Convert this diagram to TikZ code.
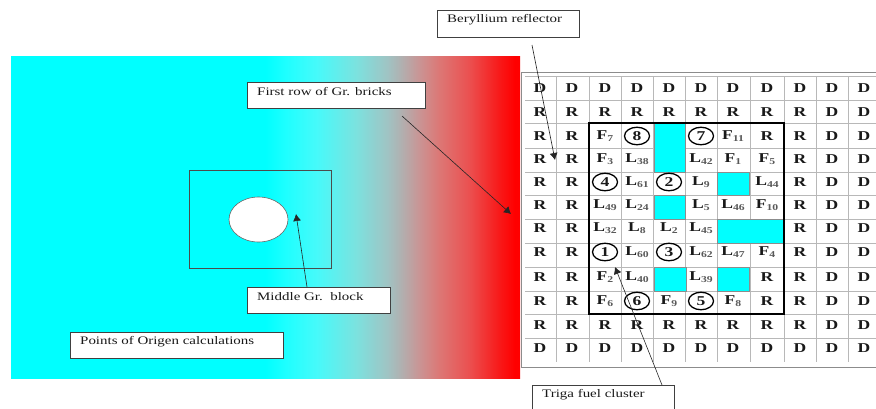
\documentclass[tikz,border=0pt]{standalone}
\usepackage{fontspec}
\setmainfont{Liberation Serif}
\newfontfamily\widefont[FakeStretch=1.3]{Liberation Serif}
\usetikzlibrary{arrows.meta,shapes.geometric}
\definecolor{aqua}{RGB}{0,255,255}
\definecolor{gA}{RGB}{30,255,255}
\definecolor{gB}{RGB}{70,250,250}
\definecolor{gC}{RGB}{125,225,222}
\definecolor{gD}{RGB}{160,195,195}
\definecolor{gE}{RGB}{175,178,178}
\definecolor{gF}{RGB}{200,150,150}
\definecolor{gG}{RGB}{220,120,118}
\definecolor{gH}{RGB}{235,80,80}
\definecolor{gI}{RGB}{248,24,24}
\definecolor{gJ}{RGB}{255,0,0}
\pgfdeclarehorizontalshading{coolhot}{100bp}{
  color(0bp)=(aqua); color(25bp)=(aqua); color(50bp)=(aqua);
  color(52bp)=(gA); color(55bp)=(gB); color(59bp)=(gC);
  color(62bp)=(gD); color(63.2bp)=(gE); color(65bp)=(gF);
  color(67bp)=(gG); color(70bp)=(gH); color(73bp)=(gI);
  color(74.5bp)=(gJ); color(100bp)=(gJ)}
\newcommand{\Sb}[1]{\raisebox{-2.5pt}{\fontsize{9}{9}\selectfont\color{black!65}#1}}
\newcommand{\Ci}[1]{\tikz[baseline=(n.base)]\node[circ](n){#1};}
\tikzset{
  x=1pt,y=-1pt,
  box/.style={draw=black!75,fill=white,line width=.7pt,inner sep=0pt},
  lbl/.style={inner sep=0pt,anchor=west,text=black!90,font=\widefont\fontsize{11.5}{13}\selectfont},
  cell/.style={inner sep=0pt,font=\widefont\bfseries\fontsize{13.5}{15}\selectfont,text=black!90},
  circ/.style={draw=black,ellipse,line width=1.3pt,minimum width=25pt,minimum height=17.5pt,inner sep=0pt},
  gridline/.style={draw=black!28,line width=.8pt},
  frameline/.style={draw=black!45,line width=1pt},
  arrowline/.style={draw=black!85,line width=.6pt,-{Latex[length=7pt,width=8pt]}},
  aquacell/.style={fill=aqua,draw=black!45,line width=.6pt},
  cluster/.style={draw=black,line width=1.2pt}
}
\begin{document}
\begin{tikzpicture}
\useasboundingbox (0,0) rectangle (876,408);
% gradient slab
\path[shading=coolhot] (11,56) rectangle (520,378);
% table
\foreach \gx in {556,589,621,653,685,717,750,784,816,848}
  \draw[gridline] (\gx,77) -- (\gx,362);
\foreach \gy in {76,100,123,148,172,195,219,243,267,291,314,338}
  \draw[gridline] (525,\gy) -- (876,\gy);
\draw[frameline] (876,72) -- (521,72) -- (521,367) -- (876,367);
% cyan cells
\path[aquacell] (654,123) rectangle (685,172);
\path[aquacell] (717,172) rectangle (749,195);
\path[aquacell] (654,195) rectangle (685,219);
\path[aquacell] (717,219) rectangle (783,243);
\path[aquacell] (654,267) rectangle (686,291);
\path[aquacell] (717,267) rectangle (749,291);
% cluster frame
\draw[cluster] (589,123) rectangle (784,314);
% cells
\foreach \rowtxt [count=\r] in {
 {D,D,D,D,D,D,D,D,D,D,D},
 {R,R,R,R,R,R,R,R,R,D,D},
 {R,R,F\Sb{7},\Ci{8},,\Ci{7},F\Sb{11},R,R,D,D},
 {R,R,F\Sb{3},L\Sb{38},,L\Sb{42},F\Sb{1},F\Sb{5},R,D,D},
 {R,R,\Ci{4},L\Sb{61},\Ci{2},L\Sb{9},,L\Sb{44},R,D,D},
 {R,R,L\Sb{49},L\Sb{24},,L\Sb{5},L\Sb{46},F\Sb{10},R,D,D},
 {R,R,L\Sb{32},L\Sb{8},L\Sb{2},L\Sb{45},,,R,D,D},
 {R,R,\Ci{1},L\Sb{60},\Ci{3},L\Sb{62},L\Sb{47},F\Sb{4},R,D,D},
 {R,R,F\Sb{2},L\Sb{40},,L\Sb{39},,R,R,D,D},
 {R,R,F\Sb{6},\Ci{6},F\Sb{9},\Ci{5},F\Sb{8},R,R,D,D},
 {R,R,R,R,R,R,R,R,R,D,D},
 {D,D,D,D,D,D,D,D,D,D,D}}
{
  \foreach \celltxt [count=\c] in \rowtxt {
    \pgfmathsetmacro{\cx}{{540,572,605,637,669,701,733,767,800,832,864}[\c-1]}
    \pgfmathsetmacro{\cy}{{88,112,136,159,182,205,228,252,277,301,325,348}[\r-1]}
    \node[cell] (c\r-\c) at (\cx,\cy) {\celltxt};
  }
}
% left block
\node[draw=black!70,fill=none,line width=.7pt,minimum width=142pt,minimum height=98pt,inner sep=0pt] (block) at (260,219) {};
\node[draw=black!60,fill=white,ellipse,minimum width=59pt,minimum height=45pt,inner sep=0pt,line width=.6pt] (hole) at (258.5,219.5) {};
% label boxes
\node[box,minimum width=142pt,minimum height=27pt] (beryl) at (508,23.5) {};
\node[lbl] at (447,20) {Beryllium reflector};
\node[box,minimum width=178pt,minimum height=26pt] (first) at (336,95) {};
\node[lbl] at (257,92) {First row of Gr. bricks};
\node[box,minimum width=143pt,minimum height=26pt] (middle) at (318.5,300) {};
\node[lbl] at (257,297) {Middle Gr.\ \ block};
\node[box,minimum width=213pt,minimum height=26pt] (points) at (176.5,345) {};
\node[lbl] at (80,342) {Points of Origen calculations};
\node[box,minimum width=142pt,minimum height=30pt] (triga) at (603,400) {};
\node[lbl] at (542,395) {Triga fuel cluster};
% connectors
\coordinate (firstfrom) at (402,116);
\coordinate (firstto) at (511,214);
\coordinate (berylfrom) at (532,45);
\coordinate (berylto) at (555,160);
\coordinate (trigafrom) at (662,385);
\coordinate (trigato) at (615,267);
\coordinate (middlefrom) at (307,287);
\coordinate (middleto) at (296,214);
\draw[arrowline] (firstfrom) -- (firstto);
\draw[arrowline] (berylfrom) -- (berylto);
\draw[arrowline] (trigafrom) -- (trigato);
\draw[arrowline] (middlefrom) -- (middleto);
\end{tikzpicture}
\end{document}
